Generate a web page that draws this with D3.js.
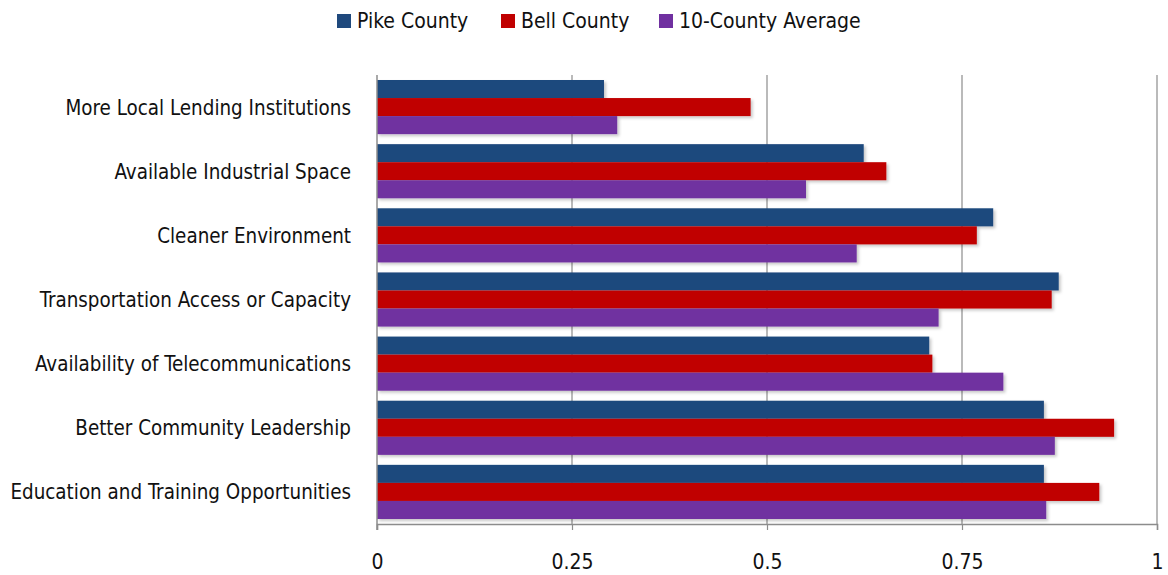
<!DOCTYPE html>
<html>
<head>
<meta charset="utf-8">
<script src="https://cdn.jsdelivr.net/npm/d3@7"></script>
<style>
  html, body { margin: 0; padding: 0; background: #fff; }
  svg { display: block; }
  text { font-family: "Liberation Sans Narrow", "DejaVu Sans Condensed", "Roboto Condensed", sans-serif; fill: #111; }
</style>
</head>
<body>
<svg id="chart" width="1168" height="575"></svg>
<script>
// Survey factors, listed top to bottom
const categories = [
  "More Local Lending Institutions",
  "Available Industrial Space",
  "Cleaner Environment",
  "Transportation Access or Capacity",
  "Availability of Telecommunications",
  "Better Community Leadership",
  "Education and Training Opportunities"
];
const seriesNames = ["Pike County", "Bell County", "10-County Average"];
const pikeCounty   = [0.291, 0.624, 0.790, 0.874, 0.708, 0.855, 0.855];
const bellCounty   = [0.479, 0.653, 0.769, 0.865, 0.712, 0.945, 0.926];
const countyAvg    = [0.308, 0.550, 0.615, 0.720, 0.803, 0.869, 0.858];
const tickValues   = [0, 0.25, 0.5, 0.75, 1];
const tickLabels   = ["0", "0.25", "0.5", "0.75", "1"];
const colors       = ["#1F497D", "#C00000", "#7030A0"];

const seriesValues = [pikeCounty, bellCounty, countyAvg];

const svg = d3.select("#chart");
const margin = { left: 377, right: 11, top: 75, bottom: 51 };
const W = 1168, H = 575;
const plotRight = W - margin.right;
const plotBottom = H - margin.bottom;

const x = d3.scaleLinear().domain([0, 1]).range([margin.left, plotRight]);
const y = d3.scaleBand().domain(categories).range([margin.top, plotBottom])
  .paddingInner(0.156).paddingOuter(0.078);
const ySub = d3.scaleBand().domain(seriesNames).range([0, y.bandwidth()]);

// soft shadow under bars
const defs = svg.append("defs");
const f = defs.append("filter").attr("id", "barShadow")
  .attr("x", "-5%").attr("y", "-20%").attr("width", "115%").attr("height", "160%");
f.append("feDropShadow").attr("dx", 2).attr("dy", 2).attr("stdDeviation", 1.5)
  .attr("flood-color", "#000").attr("flood-opacity", 0.22);

// vertical gridlines
svg.append("g").selectAll("line").data(tickValues.slice(1)).join("line")
  .attr("x1", d => x(d)).attr("x2", d => x(d))
  .attr("y1", margin.top).attr("y2", plotBottom)
  .attr("stroke", "#8c8c8c").attr("stroke-width", 1.2);

// bars
const groups = svg.append("g").selectAll("g").data(categories).join("g")
  .attr("transform", d => `translate(0,${y(d)})`);
groups.selectAll("rect")
  .data((c, i) => seriesNames.map((s, k) => ({ s, k, v: seriesValues[k][i] })))
  .join("rect")
  .attr("x", x(0))
  .attr("y", d => ySub(d.s))
  .attr("width", d => x(d.v) - x(0))
  .attr("height", ySub.bandwidth())
  .attr("fill", d => colors[d.k])
  .attr("filter", "url(#barShadow)");

// left axis line
svg.append("line")
  .attr("x1", x(0)).attr("x2", x(0))
  .attr("y1", margin.top).attr("y2", plotBottom + 6)
  .attr("stroke", "#8c8c8c").attr("stroke-width", 1.5);

// bottom axis
const xAxis = d3.axisBottom(x).tickValues(tickValues)
  .tickFormat((d, i) => tickLabels[i]).tickSize(6).tickPadding(24);
const gx = svg.append("g").attr("transform", `translate(0,${plotBottom})`).call(xAxis);
gx.select(".domain").attr("stroke", "#8c8c8c").attr("stroke-width", 1.5);
gx.selectAll(".tick line").attr("stroke", "#8c8c8c").attr("stroke-width", 1.2);
gx.selectAll(".tick text").attr("font-size", 21).attr("fill", "#111")
  .style("font-family", "'Liberation Sans Narrow', 'DejaVu Sans Condensed', sans-serif");

// category labels
const yAxis = d3.axisLeft(y).tickSize(0).tickPadding(26);
const gy = svg.append("g").attr("transform", `translate(${x(0)},1)`).call(yAxis);
gy.select(".domain").remove();
gy.selectAll(".tick text").attr("font-size", 20.4).attr("fill", "#111")
  .style("font-family", "'Liberation Sans Narrow', 'DejaVu Sans Condensed', sans-serif");

// legend
const legendX = [337, 501, 659];
const lg = svg.append("g").selectAll("g").data(seriesNames).join("g")
  .attr("transform", (d, i) => `translate(${legendX[i]},14)`);
lg.append("rect").attr("width", 14).attr("height", 14).attr("fill", (d, i) => colors[i]);
lg.append("text").attr("x", 20).attr("y", 7).attr("dy", "0.35em")
  .attr("font-size", 21).text(d => d);
</script>
</body>
</html>
